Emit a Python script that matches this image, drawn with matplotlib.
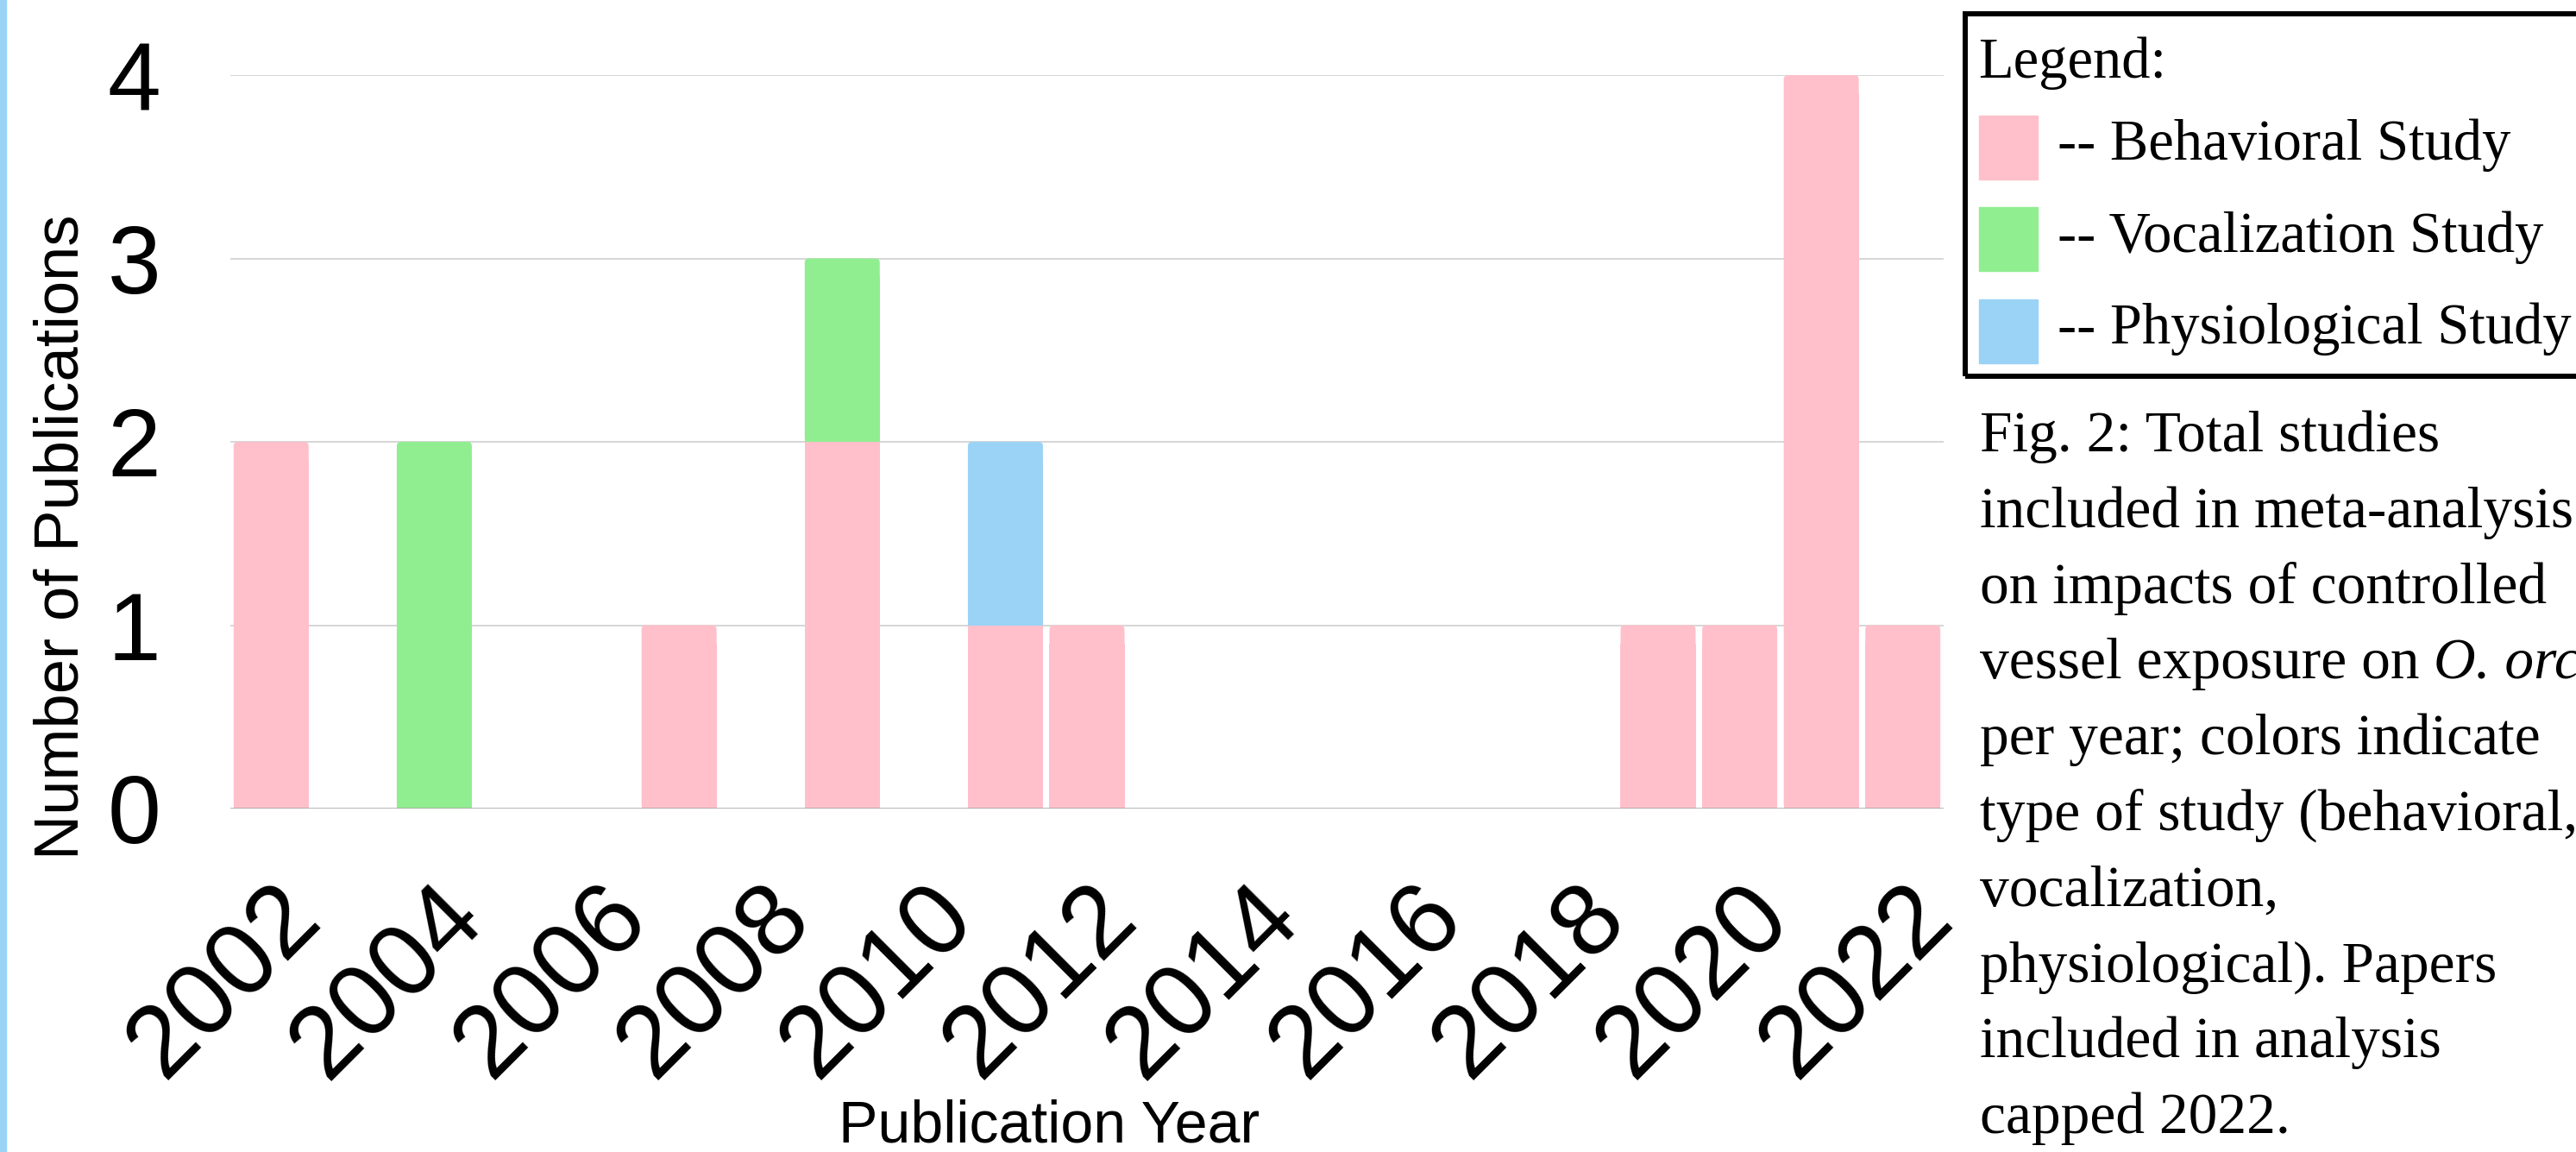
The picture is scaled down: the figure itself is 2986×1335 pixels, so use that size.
import matplotlib
matplotlib.use("Agg")
import matplotlib.pyplot as plt
from matplotlib.patches import Rectangle, FancyBboxPatch
import numpy as np

# data
years = list(range(2002, 2023))
behavioral = [2, 0, 0, 0, 0, 1, 0, 2, 0, 1, 1, 0, 0, 0, 0, 0, 0, 1, 1, 4, 1]
vocalization = [0, 0, 2, 0, 0, 0, 0, 1, 0, 0, 0, 0, 0, 0, 0, 0, 0, 0, 0, 0, 0]
physiological = [0, 0, 0, 0, 0, 0, 0, 0, 0, 1, 0, 0, 0, 0, 0, 0, 0, 0, 0, 0, 0]
tick_years = list(range(2002, 2023, 2))
series_names = ["-- Behavioral Study", "-- Vocalization Study", "-- Physiological Study"]
colors = ["#ffc0cb", "#90ee90", "#9ad3f6"]
caption = ["Fig. 2: Total studies",
           "included in meta-analysis",
           "on impacts of controlled",
           "vessel exposure on ",
           "per year; colors indicate",
           "type of study (behavioral,",
           "vocalization,",
           "physiological). Papers",
           "included in analysis",
           "capped 2022."]

W, H = 2986, 1335
fig = plt.figure(figsize=(W / 100, H / 100), dpi=100)


def fx(px):
    return px / W


def fy(py):
    return 1 - py / H


sans = "Liberation Sans"
serif = "Liberation Serif"

ax = fig.add_axes([fx(267), fy(937), fx(2253) - fx(267), fy(87) - fy(937)])
x = np.arange(len(years))
series = [np.array(v, dtype=float) for v in [behavioral, vocalization, physiological]]
totals = sum(series)
bw = 0.92
# rounding of the top corners: ~5 px, in data units of each axis
rx = 5 / 94.5
ry = 5 / 212.5
bottom = np.zeros(len(years))
for vals, c in zip(series, colors):
    for i in range(len(years)):
        if vals[i] == 0:
            continue
        top = bottom[i] + vals[i]
        left = x[i] - bw / 2
        if top == totals[i]:
            ax.add_patch(FancyBboxPatch((left, bottom[i]), bw, vals[i],
                                        boxstyle="round,pad=0,rounding_size=%f" % rx,
                                        mutation_aspect=ry / rx, color=c, lw=0, zorder=2))
            ax.add_patch(Rectangle((left, bottom[i]), bw, vals[i] - 0.1,
                                   color=c, lw=0, zorder=2))
        else:
            ax.add_patch(Rectangle((left, bottom[i]), bw, vals[i],
                                   color=c, lw=0, zorder=2))
    bottom += vals

ax.set_xlim(-0.5, len(years) - 0.5)
ax.set_ylim(0, 4)
ax.set_yticks([0, 1, 2, 3, 4])
ax.set_yticklabels(["0", "1", "2", "3", "4"], fontsize=80, family=sans)
ax.set_xticks([years.index(y) for y in tick_years])
ax.set_xticklabels([str(y) for y in tick_years], fontsize=85, family=sans,
                   rotation=45, ha="right", va="top", rotation_mode="anchor")
ax.tick_params(axis="y", length=0, pad=58)
ax.tick_params(axis="x", length=0, pad=50)
for s in ax.spines.values():
    s.set_visible(False)
for v in [1, 2, 3, 4]:
    ax.axhline(v, color="#cccccc", lw=1.1, zorder=1)
ax.axhline(0, color="#a0a0a0", lw=1.8, zorder=3)

fig.text(fx(72), fy(622), "Number of Publications", rotation=90, fontsize=52,
         family=sans, ha="center", va="center")
fig.text(fx(972), fy(1324), "Publication Year", fontsize=49, family=sans,
         ha="left", va="baseline")

# left edge strip
fig.patches.append(Rectangle((0, 0), fx(7), 1, transform=fig.transFigure,
                             color="#9ad3f6", zorder=0))

# legend box
fig.patches.append(Rectangle((fx(2278), fy(436)), fx(3050) - fx(2278), fy(16) - fy(436),
                             transform=fig.transFigure, fill=False,
                             edgecolor="black", lw=4.3))
fig.text(fx(2293), fy(90), "Legend:", fontsize=48, family=serif, va="baseline")
row_base = [185, 292, 398]
patch_top = [134, 240, 347]
for name, c, yb, pt in zip(series_names, colors, row_base, patch_top):
    fig.patches.append(Rectangle((fx(2294), fy(pt + 74)), fx(68), 74 / H,
                                 transform=fig.transFigure, color=c))
    fig.text(fx(2385), fy(yb), name, fontsize=48, family=serif, va="baseline")

# caption
for i, line in enumerate(caption):
    t = fig.text(fx(2295), fy(523 + i * 87.8), line, fontsize=48.5, family=serif,
                 va="baseline")
    if i == 3:
        fig.canvas.draw()
        bb = t.get_window_extent()
        fig.text(bb.x1 / W, fy(523 + i * 87.8), "O. orca", fontsize=48.5,
                 family=serif, style="italic", va="baseline")

fig.savefig("out.png", dpi=100)
